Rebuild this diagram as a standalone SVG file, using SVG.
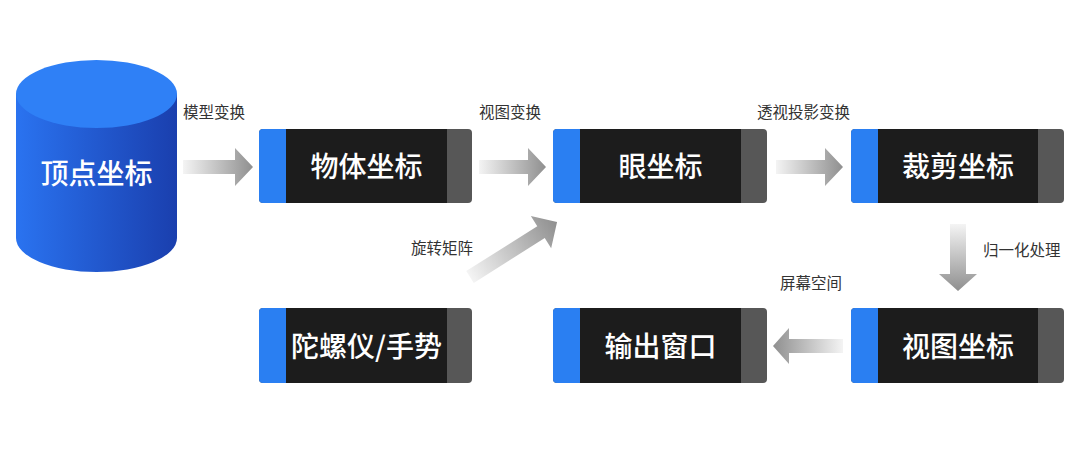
<svg xmlns="http://www.w3.org/2000/svg" width="1080" height="462" viewBox="0 0 1080 462">
<defs>
<linearGradient id="ag" x1="0" y1="0" x2="1" y2="0">
<stop offset="0" stop-color="#f4f4f4"/>
<stop offset="1" stop-color="#8f8f8f"/>
</linearGradient>
<linearGradient id="cyl" x1="0" y1="0" x2="1" y2="0">
<stop offset="0" stop-color="#2a73f0"/>
<stop offset="1" stop-color="#1a3fae"/>
</linearGradient>
<style>
.frame{fill:#575757}
.blue{fill:#2a7ff2}
.dark{fill:#1c1c1c}
.bt{font-family:"Noto Sans CJK SC","Noto Sans",sans-serif;font-size:28px;font-weight:500;fill:#ffffff;text-anchor:middle;dominant-baseline:central}
.lbl{font-family:"Noto Sans CJK SC","Noto Sans",sans-serif;font-size:15.5px;fill:#333333}
.arr{fill:url(#ag)}
</style>
</defs>
<rect width="1080" height="462" fill="#ffffff"/>

<g id="vertex">
<path d="M16,94 L16,238 A80.5,34 0 0 0 177,238 L177,94 Z" fill="url(#cyl)"/>
<ellipse cx="96.5" cy="94" rx="80.5" ry="34" fill="#2f80f6"/>
<text class="bt" x="96.5" y="172">顶点坐标</text>
</g>

<g id="object">
<rect class="frame" x="259" y="129" width="213" height="74" rx="4"/>
<rect class="blue" x="259" y="129" width="30" height="74" rx="4"/>
<rect class="dark" x="286" y="129" width="161" height="74"/>
<text class="bt" x="366.5" y="165">物体坐标</text>
</g>

<g id="eye">
<rect class="frame" x="553" y="129" width="214" height="74" rx="4"/>
<rect class="blue" x="553" y="129" width="30" height="74" rx="4"/>
<rect class="dark" x="580" y="129" width="161" height="74"/>
<text class="bt" x="660.5" y="165">眼坐标</text>
</g>

<g id="clip">
<rect class="frame" x="851" y="129" width="213" height="74" rx="4"/>
<rect class="blue" x="851" y="129" width="30" height="74" rx="4"/>
<rect class="dark" x="878" y="129" width="160" height="74"/>
<text class="bt" x="958" y="165">裁剪坐标</text>
</g>

<g id="gyro">
<rect class="frame" x="259" y="308" width="213" height="75" rx="4"/>
<rect class="blue" x="259" y="308" width="30" height="75" rx="4"/>
<rect class="dark" x="286" y="308" width="161" height="75"/>
<text class="bt" x="366.5" y="344.5">陀螺仪/手势</text>
</g>

<g id="output">
<rect class="frame" x="553" y="308" width="214" height="75" rx="4"/>
<rect class="blue" x="553" y="308" width="30" height="75" rx="4"/>
<rect class="dark" x="580" y="308" width="161" height="75"/>
<text class="bt" x="660.5" y="344.5">输出窗口</text>
</g>

<g id="viewport">
<rect class="frame" x="851" y="308" width="213" height="75" rx="4"/>
<rect class="blue" x="851" y="308" width="30" height="75" rx="4"/>
<rect class="dark" x="878" y="308" width="160" height="75"/>
<text class="bt" x="958" y="344.5">视图坐标</text>
</g>

<g id="connectors">
<polygon class="arr" transform="translate(183,167)" points="0,-7 52,-7 52,-19 70,0 52,19 52,7 0,7"/>
<polygon class="arr" transform="translate(479,167)" points="0,-7 49,-7 49,-19 67,0 49,19 49,7 0,7"/>
<polygon class="arr" transform="translate(776,167)" points="0,-7 49,-7 49,-19 67,0 49,19 49,7 0,7"/>
<polygon class="arr" transform="translate(958,224) rotate(90)" points="0,-8 50,-8 50,-19 67,0 50,19 50,8 0,8"/>
<polygon class="arr" transform="translate(843,346) rotate(180)" points="0,-7 54,-7 54,-18 70,0 54,18 54,7 0,7"/>
<polygon class="arr" transform="translate(470,277) rotate(-32.3)" points="0,-7 84,-7 84,-19 103,0 84,19 84,7 0,7"/>
<text class="lbl" x="183" y="118">模型变换</text>
<text class="lbl" x="479" y="118">视图变换</text>
<text class="lbl" x="757" y="118">透视投影变换</text>
<text class="lbl" x="983" y="256">归一化处理</text>
<text class="lbl" x="780" y="289">屏幕空间</text>
<text class="lbl" x="411" y="254">旋转矩阵</text>
</g>
</svg>
